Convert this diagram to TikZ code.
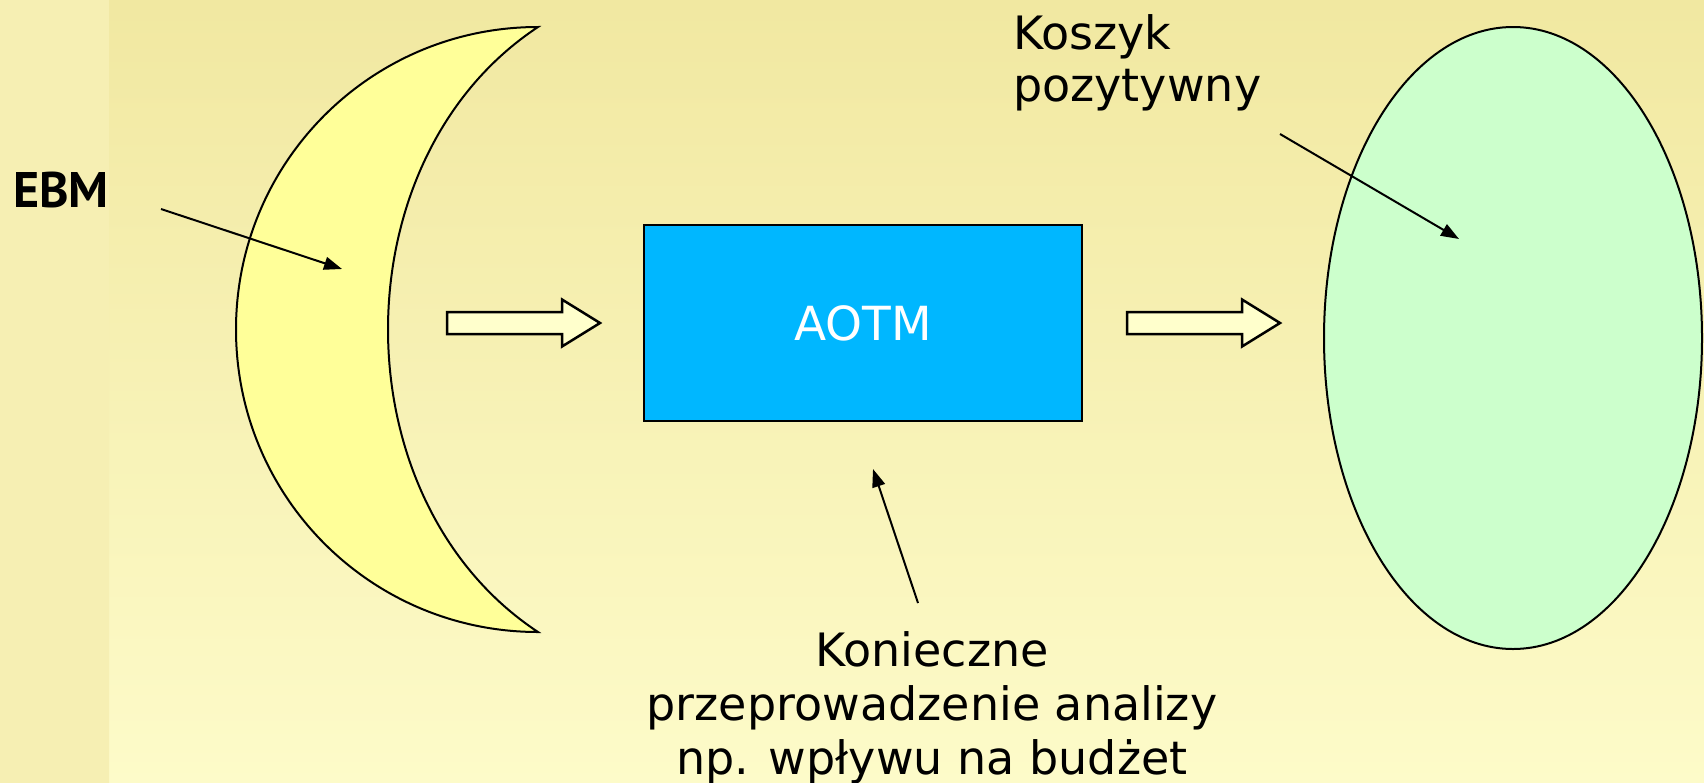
\documentclass[tikz,border=0pt]{standalone}
\usepackage{fontspec}
\setmainfont{DejaVu Sans}
\newfontfamily\ebmfont{PT Sans}
\usetikzlibrary{arrows.meta, positioning, shapes.geometric}

\definecolor{bgtop}{HTML}{F1E8A1}
\definecolor{bgbot}{HTML}{FDFBC9}
\definecolor{striplight}{HTML}{F6EFB3}
\definecolor{stripdark}{HTML}{EEE497}
\definecolor{moonfill}{HTML}{FFFF99}
\definecolor{basketfill}{HTML}{CCFFCC}
\definecolor{boxfill}{HTML}{00B7FF}
\definecolor{cream}{HTML}{FFFFCC}

% fat hollow arrow: name, left x, middle y
\newcommand{\fatarrow}[3]{%
    \draw [fatarr] (#2,#3-11) -- ++(115,0) -- ++(0,-12.5) -- ++(38,23.5)
        -- ++(-38,23.5) -- ++(0,-12.5) -- ++(-115,0) -- cycle;
    \coordinate (#1) at (#2+76,#3);}

\begin{document}
\begin{tikzpicture}[
    % GLOBAL CFG
    x=1pt, y=-1pt,
    font=\fontsize{46}{54}\selectfont,
    >={Triangle[length=18pt, width=13pt]},
    % Styles
    moon/.style={% For the crescent
        draw,
        line width=2pt,
        fill=moonfill,
        },
    basket/.style={% For the positive list
        ellipse,
        draw,
        line width=2pt,
        fill=basketfill,
        minimum width=378pt,
        minimum height=622pt,
        inner sep=0pt,
        },
    agency/.style={% For the blue box
        rectangle,
        draw,
        line width=2pt,
        fill=boxfill,
        text=white,
        font=\fontsize{47}{51}\selectfont,
        minimum width=438pt,
        minimum height=196pt,
        },
    fatarr/.style={% Hollow block arrows
        line width=2.5pt,
        fill=cream,
        },
    mylabel/.style={% Plain text labels
        inner sep=0pt,
        },
    pointer/.style={% Thin arrows
        ->,
        line width=2pt,
        },
    ]

% Background
    \useasboundingbox (0,0) rectangle (1704,782);
    \fill [top color=bgtop, bottom color=bgbot] (0,0) rectangle (1704,782);
    \fill [top color=striplight, middle color=stripdark, bottom color=striplight] (0,0) rectangle (109,782);

% Shapes
    % Crescent
    \draw [moon] (538,27) .. controls (371,27) and (236,162) .. (236,329.5)
        .. controls (236,497) and (371,632) .. (538,632)
        .. controls (338,500) and (338,159) .. (538,27) -- cycle;
    \coordinate (moonin) at (342,269);

    % Box and ellipse
    \node [agency] (aotm) at (863,323) {AOTM};
    \node [basket] (koszyk) at (1513,338) {};

    % Block arrows
    \fatarrow{arr1}{447}{323}
    \fatarrow{arr2}{1127}{323}

% Labels
    \node [mylabel, anchor=base west, font=\fontsize{50}{51}\ebmfont\bfseries] (ebm) at (13,207) {EBM};
    \node [mylabel, anchor=north west, align=left, font=\fontsize{46}{52}\selectfont] (koszyklab) at (1013,14) {Koszyk\\pozytywny};
    \node [mylabel, anchor=north, align=center] (note) at (932,631) {Konieczne\\przeprowadzenie analizy\\np. wpływu na budżet};

% Pointers
    \coordinate (ebmtail) at (161,209);
    \coordinate (koszyktail) at (1280,134);
    \coordinate (koszykin) at (1459,239);
    \coordinate (notetail) at (918,603);
    \coordinate (aotmin) at (873,469);

    \draw [pointer] (ebmtail) -- (moonin);
    \draw [pointer] (koszyktail) -- (koszykin);
    \draw [pointer] (notetail) -- (aotmin);

\end{tikzpicture}
\end{document}
